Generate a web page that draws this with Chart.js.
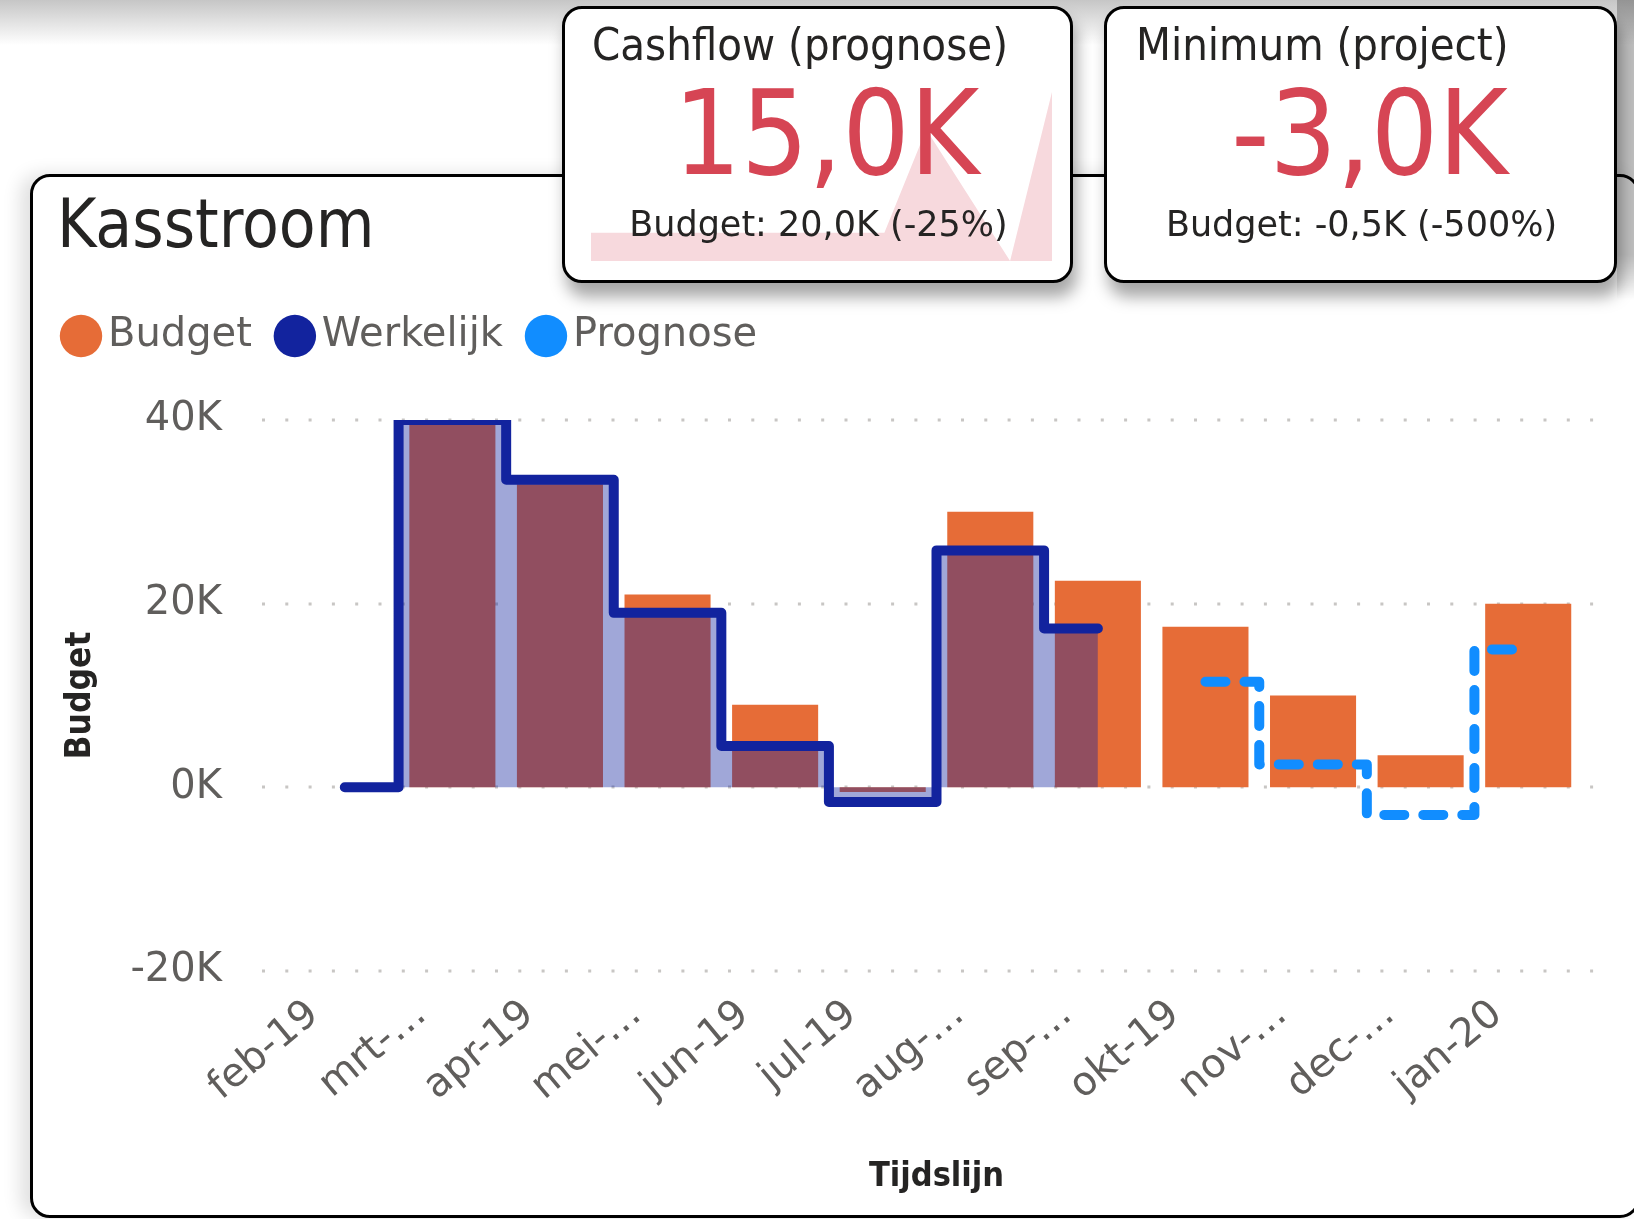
<!DOCTYPE html>
<html>
<head>
<meta charset="utf-8">
<script src="https://cdn.jsdelivr.net/npm/chart.js@4.4.0/dist/chart.umd.min.js"></script>
<style>
body{margin:0;width:1634px;height:1219px;overflow:hidden;background:#fff;position:relative;font-family:'DejaVu Sans',sans-serif;color:#252423}
.topshade{position:absolute;left:0;top:0;width:1634px;height:45px;background:linear-gradient(#c6c6c6,#fff)}
.rightshade{position:absolute;left:1617px;top:0;width:17px;height:300px;background:linear-gradient(rgba(0,0,0,.25) 85%,rgba(0,0,0,0));z-index:2}
.card{position:absolute;background:#fff;border:3px solid #000;border-radius:20px;box-sizing:border-box}
#main{left:30px;top:174px;width:1610px;height:1044px;box-shadow:-10px 0 18px rgba(0,0,0,.12);z-index:1}
.kpi{top:6px;height:277px;box-shadow:4px 14px 16px rgba(0,0,0,.35);z-index:3;overflow:hidden}
#k1{left:562px;width:511px}
#k2{left:1104px;width:513px}
.title{position:absolute;left:24px;top:14px;font-family:'DejaVu Sans Condensed','DejaVu Sans';font-stretch:condensed;font-size:67px;line-height:67px;white-space:nowrap}
.ktitle{position:absolute;top:13px;font-family:'DejaVu Sans Condensed','DejaVu Sans';font-stretch:condensed;font-size:45px;line-height:45px;white-space:nowrap}
.kval{position:absolute;left:8px;right:-10px;top:65px;text-align:center;font-family:'DejaVu Sans Condensed','DejaVu Sans';font-stretch:condensed;font-size:118px;line-height:118px;color:#D64554;white-space:nowrap}
.ksub{position:absolute;left:0;right:-2px;top:198px;text-align:center;font-size:35px;line-height:35px;white-space:nowrap}
#spark{position:absolute;left:26px;top:83px}
#chart{position:absolute;left:1px;top:103px}
</style>
</head>
<body>
<div class="topshade"></div>
<div class="rightshade"></div>
<div class="card" id="main">
  <div class="title">Kasstroom</div>
  <canvas id="chart" width="1595" height="935"></canvas>
</div>
<div class="card kpi" id="k1">
  <canvas id="spark" width="461" height="169"></canvas>
  <div class="ktitle" style="left:27px">Cashflow (prognose)</div>
  <div class="kval">15,0K</div>
  <div class="ksub">Budget: 20,0K (-25%)</div>
</div>
<div class="card kpi" id="k2">
  <div class="ktitle" style="left:29px">Minimum (project)</div>
  <div class="kval">-3,0K</div>
  <div class="ksub">Budget: -0,5K (-500%)</div>
</div>
<script>
// months on the timeline
const months = ['feb-19','mrt-19','apr-19','mei-19','jun-19','jul-19','aug-19','sep-19','okt-19','nov-19','dec-19','jan-20'];
// labels as shown on the axis (Power BI cuts the wide ones)
const monthTicks = ['feb-19','mrt-…','apr-19','mei-…','jun-19','jul-19','aug-…','sep-…','okt-19','nov-…','dec-…','jan-20'];
const budget = [null, 40000, 33000, 21000, 9000, -500, 30000, 22500, 17500, 10000, 3500, 20000];
const werkelijk = [0, 40000, 33500, 19000, 4500, -1600, 25800, 17300, null, null, null, null];
const prognose = [null, null, null, null, null, null, null, null, 11500, 2500, -3000, 15000];
// trend behind the cashflow card
const sparkValues = [0, 0, 0, 0, 0, 0, 0, 0, 11000, 4000, -3000, 15000];
const yTicks = [-20000, 0, 20000, 40000];
const legendColors = ['#E66C37', '#12239E', '#118DFF'];

Chart.defaults.font.family = "'DejaVu Sans'";
Chart.defaults.color = '#605E5C';

// dotted gridlines, a bit wider than the plot like in power bi
const dottedGrid = {
  id: 'dottedGrid',
  beforeDatasetsDraw(chart) {
    const {ctx, chartArea, scales: {y}} = chart;
    ctx.save();
    ctx.strokeStyle = '#C8C6C4';
    ctx.lineWidth = 3;
    ctx.setLineDash([3, 20.3]);
    yTicks.forEach(v => {
      const py = Math.round(y.getPixelForValue(v));
      ctx.beginPath();
      ctx.moveTo(chartArea.left - 29, py);
      ctx.lineTo(chartArea.right + 31, py);
      ctx.stroke();
    });
    ctx.restore();
  }
};

new Chart(document.getElementById('chart'), {
  type: 'bar',
  data: {
    labels: months,
    datasets: [
      {label: 'Budget', data: budget, backgroundColor: '#E66C37', barPercentage: 0.8, categoryPercentage: 1, order: 3, xAxisID: 'x', yAxisID: 'y'},
      {type: 'line', label: 'Werkelijk', data: werkelijk, borderColor: '#12239E', backgroundColor: 'rgba(18,35,158,0.4)',
        borderWidth: 10, stepped: 'middle', fill: 'origin', pointRadius: 0, borderJoinStyle: 'round', borderCapStyle: 'round', order: 2, xAxisID: 'x', yAxisID: 'y'},
      {type: 'line', label: 'Prognose', data: prognose, borderColor: '#118DFF', backgroundColor: '#118DFF',
        borderWidth: 10, borderDash: [20, 19], stepped: 'middle', fill: false, pointRadius: 0, borderJoinStyle: 'round', borderCapStyle: 'round', order: 1, xAxisID: 'x', yAxisID: 'y'}
    ]
  },
  options: {
    responsive: false,
    animation: false,
    devicePixelRatio: 1,
    layout: {padding: {left: 4, top: 0, right: 47, bottom: 0}},
    plugins: {
      tooltip: {enabled: false},
      legend: {
        position: 'top',
        align: 'start',
        labels: {
          usePointStyle: true,
          boxWidth: 14,
          boxHeight: 30,
          padding: 36,
          color: '#605E5C',
          font: {size: 40},
          generateLabels: chart => Chart.defaults.plugins.legend.labels.generateLabels(chart)
            .sort((a, b) => a.datasetIndex - b.datasetIndex)
            .map(l => Object.assign(l, {fillStyle: legendColors[l.datasetIndex], strokeStyle: legendColors[l.datasetIndex], lineWidth: 0, lineDash: [], pointStyle: 'circle'}))
        }
      }
    },
    scales: {
      x: {
        position: 'bottom',
        offset: true,
        grid: {display: false, drawTicks: false},
        border: {display: false},
        ticks: {
          autoSkip: false, minRotation: 40, maxRotation: 40, padding: 20, labelOffset: -31,
          color: '#605E5C', font: {size: 40},
          callback: (v, i) => monthTicks[i]
        },
        title: {display: true, text: 'Tijdslijn', color: '#252423', padding: {top: 0, bottom: 17},
          font: {family: "'DejaVu Sans Condensed'", size: 34, weight: 'bold'}},
        afterFit: s => { s.height = 244; }
      },
      // empty band between legend and plot
      xTop: {
        type: 'category', axis: 'x', position: 'top', display: true,
        grid: {display: false, drawTicks: false}, border: {display: false}, ticks: {display: false},
        afterFit: s => { s.height = 54; }
      },
      y: {
        min: -20000, max: 40000,
        grid: {display: false, drawTicks: false},
        border: {display: false},
        ticks: {stepSize: 20000, padding: 69, color: '#605E5C', font: {size: 40},
          callback: v => (v / 1000) + 'K'},
        title: {display: true, text: 'Budget', color: '#252423', padding: {top: 22, bottom: 0},
          font: {family: "'DejaVu Sans Condensed'", size: 35, weight: 'bold'}},
        afterFit: s => { s.width = 253; }
      }
    }
  },
  plugins: [dottedGrid]
});

// small trend area in the KPI card
new Chart(document.getElementById('spark'), {
  type: 'line',
  data: {
    labels: months,
    datasets: [{data: sparkValues, fill: 'start', backgroundColor: '#F7D9DD', borderColor: 'rgba(0,0,0,0)', borderWidth: 0, pointRadius: 0}]
  },
  options: {
    responsive: false,
    animation: false,
    devicePixelRatio: 1,
    layout: {padding: 0},
    plugins: {legend: {display: false}, tooltip: {enabled: false}},
    scales: {
      x: {display: false, offset: false},
      y: {display: false, min: Math.min(...sparkValues), max: Math.max(...sparkValues)}
    }
  }
});
</script>
</body>
</html>
